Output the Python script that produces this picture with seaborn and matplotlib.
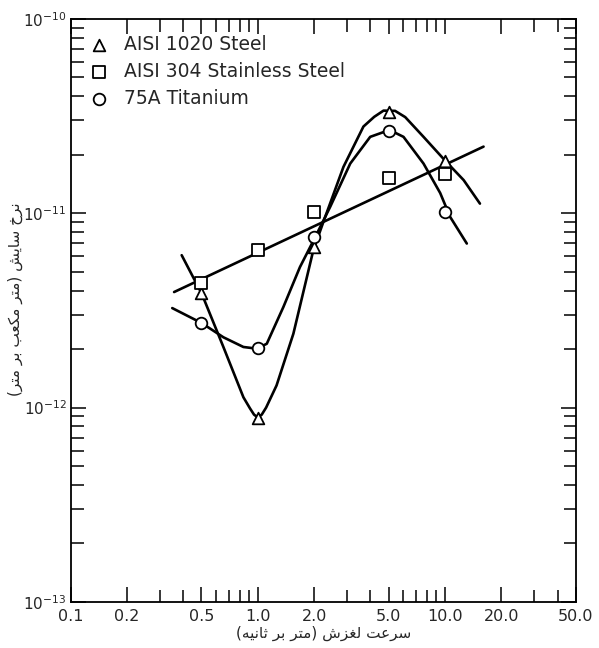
import numpy as np
import matplotlib
matplotlib.use('Agg')
import matplotlib.pyplot as plt
import matplotlib.ticker as mticker
import seaborn as sns

# measured points (sliding speed in m/s, wear rate in m^3/m)
speeds = [0.5, 1.0, 2.0, 5.0, 10.0]
steel_1020 = [3.9e-12, 8.8e-13, 6.7e-12, 3.3e-11, 1.86e-11]
ss_304 = [4.35e-12, 6.5e-12, 1.01e-11, 1.51e-11, 1.60e-11]
ti_75a = [2.72e-12, 2.02e-12, 7.55e-12, 2.65e-11, 1.02e-11]

# hand drawn curves
curve_1020_x = [0.392, 0.502, 0.655, 0.838, 0.909, 0.955, 1.0, 1.05, 1.108, 1.26, 1.55,
                1.98, 2.24, 2.87, 3.67, 4.19, 4.70, 5.42, 6.14, 7.69, 10.0, 12.6, 15.4]
curve_1020_y = [6.08e-12, 3.85e-12, 2.05e-12, 1.13e-12, 9.9e-13, 9.2e-13, 8.9e-13, 9.2e-13,
                1.0e-12, 1.3e-12, 2.40e-12, 6.44e-12, 9.0e-12, 1.73e-11, 2.79e-11, 3.13e-11,
                3.37e-11, 3.36e-11, 3.12e-11, 2.47e-11, 1.87e-11, 1.48e-11, 1.12e-11]
curve_ti_x = [0.349, 0.502, 0.655, 0.838, 0.988, 1.117, 1.37, 1.68, 2.03, 2.44, 3.12,
              3.99, 5.06, 6.01, 7.69, 9.44, 10.67, 13.1]
curve_ti_y = [3.25e-12, 2.72e-12, 2.30e-12, 2.05e-12, 2.01e-12, 2.13e-12, 3.29e-12, 5.28e-12,
              7.55e-12, 1.08e-11, 1.80e-11, 2.47e-11, 2.68e-11, 2.47e-11, 1.80e-11, 1.27e-11,
              9.57e-12, 6.98e-12]
fit_304_x = [0.357, 16.1]
fit_304_y = [3.93e-12, 2.20e-11]

x_ticks = [0.1, 0.2, 0.5, 1.0, 2.0, 5.0, 10.0, 20.0, 50.0]
x_tick_labels = ['0.1', '0.2', '0.5', '1.0', '2.0', '5.0', '10.0', '20.0', '50.0']
y_ticks = [1e-13, 1e-12, 1e-11, 1e-10]
y_tick_labels = [r'$10^{-13}$', r'$10^{-12}$', r'$10^{-11}$', r'$10^{-10}$']
labels = ['AISI 1020 Steel', 'AISI 304 Stainless Steel', '75A Titanium']
x_title = 'سرعت لغزش (متر بر ثانیه)'
y_title = 'نرخ سایش (متر مکعب بر متر)'


def shape_fa(text):
    # matplotlib has no arabic shaping, so pick presentation forms by hand
    # each entry: isolated, final, initial, medial
    forms = {
        'ا': 'ﺍﺎﺍﺎ', 'ر': 'ﺭﺮﺭﺮ', 'ز': 'ﺯﺰﺯﺰ',
        'ب': 'ﺏﺐﺑﺒ', 'ت': 'ﺕﺖﺗﺘ', 'ث': 'ﺙﺚﺛﺜ',
        'خ': 'ﺥﺦﺧﺨ', 'س': 'ﺱﺲﺳﺴ', 'ش': 'ﺵﺶﺷﺸ',
        'ع': 'ﻉﻊﻋﻌ', 'غ': 'ﻍﻎﻏﻐ', 'ل': 'ﻝﻞﻟﻠ',
        'م': 'ﻡﻢﻣﻤ', 'ن': 'ﻥﻦﻧﻨ', 'ه': 'ﻩﻪﻫﻬ',
        'ک': 'ﮎﮏﮐﮑ', 'ی': 'ﯼﯽﯾﯿ',
    }
    right_only = set('ارز')
    out = []
    for i, c in enumerate(text):
        if c not in forms:
            out.append(c)
            continue
        prev = text[i - 1] if i > 0 else ''
        nxt = text[i + 1] if i + 1 < len(text) else ''
        jp = prev in forms and prev not in right_only
        jn = nxt in forms and c not in right_only
        if jp and jn:
            out.append(forms[c][3])
        elif jp:
            out.append(forms[c][1])
        elif jn:
            out.append(forms[c][2])
        else:
            out.append(forms[c][0])
    mirror = {'(': ')', ')': '('}
    return ''.join(mirror.get(c, c) for c in reversed(out))


sns.set_style('ticks')
plt.rcParams['font.family'] = ['DejaVu Sans']

fig = plt.figure(figsize=(5.99, 6.48), dpi=100)
ax = fig.add_axes([0.118, 0.071, 0.843, 0.900])

lw = 1.9
sns.lineplot(x=curve_1020_x, y=curve_1020_y, ax=ax, color='black', lw=lw,
             sort=False, estimator=None)
sns.lineplot(x=curve_ti_x, y=curve_ti_y, ax=ax, color='black', lw=lw,
             sort=False, estimator=None)
sns.lineplot(x=fit_304_x, y=fit_304_y, ax=ax, color='black', lw=lw,
             sort=False, estimator=None)

mk = dict(ax=ax, facecolor='white', edgecolor='black', linewidth=1.3, s=70, zorder=5)
sns.scatterplot(x=speeds, y=steel_1020, marker='^', label=labels[0], **mk)
sns.scatterplot(x=speeds, y=ss_304, marker='s', label=labels[1], **mk)
sns.scatterplot(x=speeds, y=ti_75a, marker='o', label=labels[2], **mk)

ax.set_xscale('log')
ax.set_yscale('log')
ax.set_xlim(0.1, 50)
ax.set_ylim(1e-13, 1e-10)

ax.xaxis.set_major_locator(mticker.FixedLocator(x_ticks))
ax.xaxis.set_major_formatter(mticker.FixedFormatter(x_tick_labels))
ax.xaxis.set_minor_locator(mticker.LogLocator(base=10, subs=np.arange(2, 10)))
ax.xaxis.set_minor_formatter(mticker.NullFormatter())
ax.yaxis.set_major_locator(mticker.FixedLocator(y_ticks))
ax.yaxis.set_major_formatter(mticker.FixedFormatter(y_tick_labels))
ax.yaxis.set_minor_locator(mticker.LogLocator(base=10, subs=np.arange(2, 10), numticks=10))
ax.yaxis.set_minor_formatter(mticker.NullFormatter())

ax.tick_params(which='both', direction='in', top=True, right=True, width=1.1,
               color='black', labelsize=11.5, pad=5)
ax.tick_params(axis='y', labelsize=11, pad=3)
ax.tick_params(which='major', length=11)
ax.tick_params(which='minor', length=9)
for s in ax.spines.values():
    s.set_linewidth(1.3)
    s.set_color('black')

ax.set_xlabel(shape_fa(x_title), fontsize=11, labelpad=1)
ax.set_ylabel(shape_fa(y_title), fontsize=11)
ax.yaxis.set_label_coords(-0.095, 0.52)

ax.legend(loc='upper left', frameon=False, fontsize=13.5, handletextpad=0.55,
          labelspacing=0.42, borderaxespad=0.3, bbox_to_anchor=(0.0, 0.995),
          handlelength=1.6)

plt.savefig('out.png', dpi=100)
plt.close()
